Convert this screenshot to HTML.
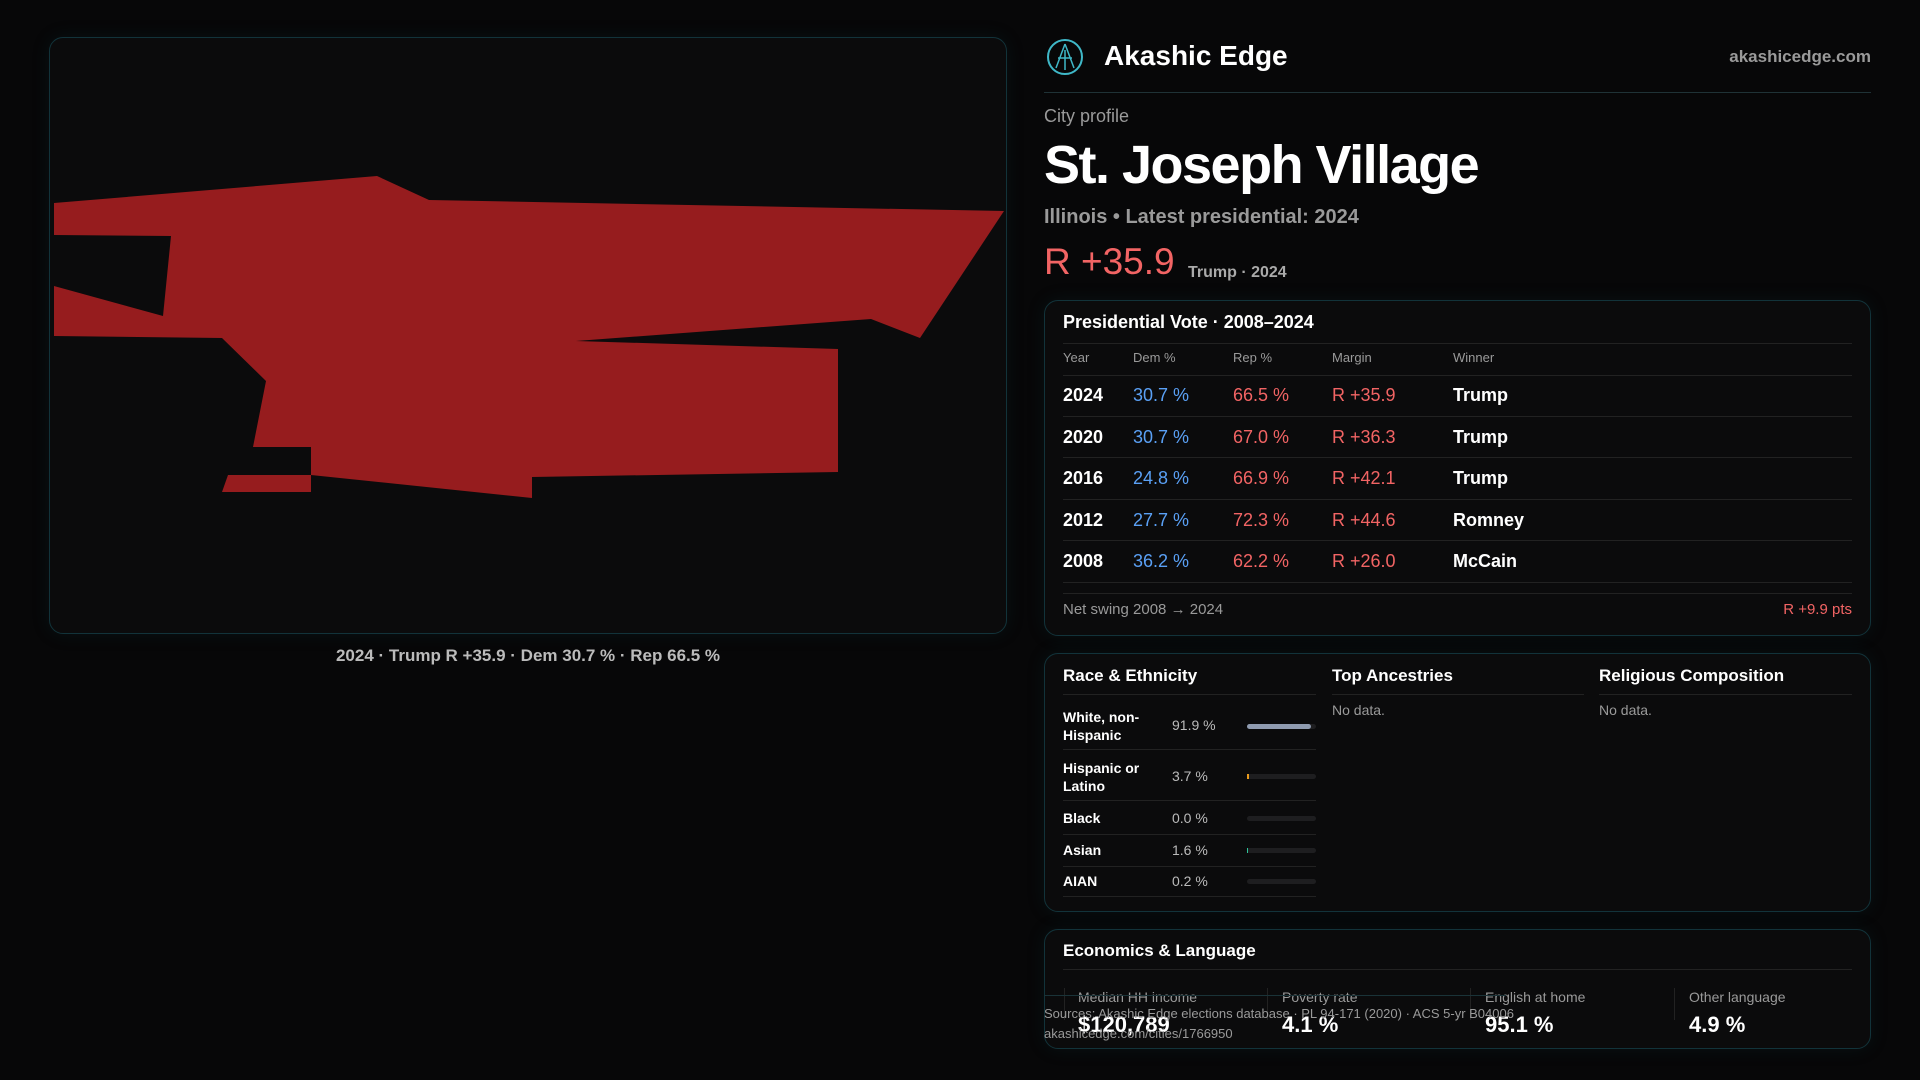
<!DOCTYPE html>
<html><head><meta charset="utf-8"><style>
*{margin:0;padding:0;box-sizing:border-box}
body{width:1920px;height:1080px;background:#070708;font-family:"Liberation Sans",sans-serif;color:#fff;position:relative;overflow:hidden}
.a{position:absolute;white-space:nowrap}
.panel{position:absolute;border:1px solid #12333a;border-radius:14px;background:#0b0b0c;box-shadow:0 0 18px rgba(20,80,90,0.15)}
.g{color:#9a9a9a}
.b{font-weight:bold}
.red{color:#f26464}.blue{color:#5aa0f5}
.hl{position:absolute;height:1px;background:#222}
</style></head><body>
<div class="panel" style="left:49px;top:37px;width:958px;height:597px"></div>
<svg class="a" style="left:0;top:0" width="1920" height="1080"><polygon fill="#961c1e" points="54,203 377,176 429,200 1004,211 920,338 871,319 576,341 838,349 838,472 532,477 532,498 311,475 311,447 253,447 266,381 222,338 54,336 54,286 163,316 171,236 54,235"/><polygon fill="#961c1e" points="311,475 311,492 222,492 228,475"/></svg>
<div class="a b" style="left:0;width:1056px;text-align:center;top:646px;font-size:17px;color:#bbb">2024 · Trump R +35.9 · Dem 30.7 % · Rep 66.5 %</div>

<svg class="a" style="left:1046px;top:38px" width="38" height="38"><circle cx="19" cy="19" r="17" fill="none" stroke="#3fb8c8" stroke-width="2"/><path d="M19 6 L10 30 M19 6 L28 30 M12 20 L26 20 M19 12 L19 32" stroke="#3fb8c8" stroke-width="1.5" fill="none"/></svg>
<div class="a b" style="left:1104px;top:40px;font-size:28px">Akashic Edge</div>
<div class="a b g" style="right:49px;top:47px;font-size:17px">akashicedge.com</div>
<div class="hl" style="left:1044px;width:827px;top:92px;background:#1f3236"></div>
<div class="a g" style="left:1044px;top:106px;font-size:18px">City profile</div>
<div class="a b" style="left:1044px;top:134px;font-size:54px;letter-spacing:-1.5px">St. Joseph Village</div>
<div class="a b g" style="left:1044px;top:206px;font-size:20px">Illinois • Latest presidential: 2024</div>
<div class="a red" style="left:1044px;top:241px;font-size:37px">R +35.9</div>
<div class="a g b" style="left:1188px;top:264px;font-size:16px;color:#aaa">Trump · 2024</div>

<div class="panel" style="left:1044px;top:300px;width:827px;height:336px"></div>
<div class="a b" style="left:1063px;top:312px;font-size:18px">Presidential Vote · 2008–2024</div>
<div class="hl" style="left:1063px;width:789px;top:343px"></div>
<div class="a g" style="left:1063px;top:350px;font-size:13px">Year</div>
<div class="a g" style="left:1133px;top:350px;font-size:13px">Dem %</div>
<div class="a g" style="left:1233px;top:350px;font-size:13px">Rep %</div>
<div class="a g" style="left:1332px;top:350px;font-size:13px">Margin</div>
<div class="a g" style="left:1453px;top:350px;font-size:13px">Winner</div>
<div class="hl" style="left:1063px;width:789px;top:375px"></div>
<div style="position:absolute;left:1063px;top:375px;width:789px;font-size:18px">
<div style="position:relative;height:41.6px;border-bottom:1px solid #222"><span class="a b" style="left:0;top:10px">2024</span><span class="a blue" style="left:70px;top:10px">30.7 %</span><span class="a red" style="left:170px;top:10px">66.5 %</span><span class="a red" style="left:269px;top:10px">R +35.9</span><span class="a b" style="left:390px;top:10px">Trump</span></div>
<div style="position:relative;height:41.6px;border-bottom:1px solid #222"><span class="a b" style="left:0;top:10px">2020</span><span class="a blue" style="left:70px;top:10px">30.7 %</span><span class="a red" style="left:170px;top:10px">67.0 %</span><span class="a red" style="left:269px;top:10px">R +36.3</span><span class="a b" style="left:390px;top:10px">Trump</span></div>
<div style="position:relative;height:41.6px;border-bottom:1px solid #222"><span class="a b" style="left:0;top:10px">2016</span><span class="a blue" style="left:70px;top:10px">24.8 %</span><span class="a red" style="left:170px;top:10px">66.9 %</span><span class="a red" style="left:269px;top:10px">R +42.1</span><span class="a b" style="left:390px;top:10px">Trump</span></div>
<div style="position:relative;height:41.6px;border-bottom:1px solid #222"><span class="a b" style="left:0;top:10px">2012</span><span class="a blue" style="left:70px;top:10px">27.7 %</span><span class="a red" style="left:170px;top:10px">72.3 %</span><span class="a red" style="left:269px;top:10px">R +44.6</span><span class="a b" style="left:390px;top:10px">Romney</span></div>
<div style="position:relative;height:41.6px;border-bottom:1px solid #222"><span class="a b" style="left:0;top:10px">2008</span><span class="a blue" style="left:70px;top:10px">36.2 %</span><span class="a red" style="left:170px;top:10px">62.2 %</span><span class="a red" style="left:269px;top:10px">R +26.0</span><span class="a b" style="left:390px;top:10px">McCain</span></div>
</div>
<div class="hl" style="left:1063px;width:789px;top:593px"></div>
<div class="a g" style="left:1063px;top:601px;font-size:15px">Net swing 2008 → 2024</div>
<div class="a red" style="right:68px;top:601px;font-size:15px">R +9.9 pts</div>

<div class="panel" style="left:1044px;top:653px;width:827px;height:259px"></div>
<div class="a b" style="left:1063px;top:666px;font-size:17px">Race &amp; Ethnicity</div>
<div class="a b" style="left:1332px;top:666px;font-size:17px">Top Ancestries</div>
<div class="a b" style="left:1599px;top:666px;font-size:17px">Religious Composition</div>
<div class="hl" style="left:1063px;width:253px;top:694px"></div>
<div class="hl" style="left:1332px;width:252px;top:694px"></div>
<div class="hl" style="left:1599px;width:253px;top:694px"></div>
<div class="a g" style="left:1332px;top:702px;font-size:14px">No data.</div>
<div class="a g" style="left:1599px;top:702px;font-size:14px">No data.</div>
<div style="font-size:14px">
<div class="a b" style="left:1063px;top:708px;line-height:18px">White, non-<br>Hispanic</div><div class="a" style="left:1172px;top:717px;color:#bbb">91.9 %</div>
<div class="a" style="left:1247px;top:724px;width:69px;height:5px;border-radius:3px;background:#1e1e20"><div style="width:64px;height:5px;border-radius:3px;background:#8f9bb0"></div></div>
<div class="hl" style="left:1063px;width:253px;top:749px"></div>
<div class="a b" style="left:1063px;top:759px;line-height:18px">Hispanic or<br>Latino</div><div class="a" style="left:1172px;top:768px;color:#bbb">3.7 %</div>
<div class="a" style="left:1247px;top:774px;width:69px;height:5px;border-radius:3px;background:#1e1e20"><div style="width:2px;height:5px;background:#e89a1c"></div></div>
<div class="hl" style="left:1063px;width:253px;top:800px"></div>
<div class="a b" style="left:1063px;top:810px">Black</div><div class="a" style="left:1172px;top:810px;color:#bbb">0.0 %</div>
<div class="a" style="left:1247px;top:816px;width:69px;height:5px;border-radius:3px;background:#1e1e20"></div>
<div class="hl" style="left:1063px;width:253px;top:834px"></div>
<div class="a b" style="left:1063px;top:842px">Asian</div><div class="a" style="left:1172px;top:842px;color:#bbb">1.6 %</div>
<div class="a" style="left:1247px;top:848px;width:69px;height:5px;border-radius:3px;background:#1e1e20"><div style="width:1px;height:5px;background:#2ec49a"></div></div>
<div class="hl" style="left:1063px;width:253px;top:866px"></div>
<div class="a b" style="left:1063px;top:873px">AIAN</div><div class="a" style="left:1172px;top:873px;color:#bbb">0.2 %</div>
<div class="a" style="left:1247px;top:879px;width:69px;height:5px;border-radius:3px;background:#1e1e20"></div>
<div class="hl" style="left:1063px;width:253px;top:896px"></div>
</div>

<div class="panel" style="left:1044px;top:929px;width:827px;height:120px"></div>
<div class="a b" style="left:1063px;top:941px;font-size:17px">Economics &amp; Language</div>
<div class="hl" style="left:1063px;width:789px;top:969px"></div>
<div class="a" style="left:1064px;top:988px;width:1px;height:32px;background:#222"></div>
<div class="a" style="left:1267px;top:988px;width:1px;height:32px;background:#222"></div>
<div class="a" style="left:1470px;top:988px;width:1px;height:32px;background:#222"></div>
<div class="a" style="left:1674px;top:988px;width:1px;height:32px;background:#222"></div>
<div class="a g" style="left:1078px;top:989px;font-size:14px">Median HH income</div>
<div class="a g" style="left:1282px;top:989px;font-size:14px">Poverty rate</div>
<div class="a g" style="left:1485px;top:989px;font-size:14px">English at home</div>
<div class="a g" style="left:1689px;top:989px;font-size:14px">Other language</div>
<div class="a b" style="left:1078px;top:1012px;font-size:22px">$120,789</div>
<div class="a b" style="left:1282px;top:1012px;font-size:22px">4.1 %</div>
<div class="a b" style="left:1485px;top:1012px;font-size:22px">95.1 %</div>
<div class="a b" style="left:1689px;top:1012px;font-size:22px">4.9 %</div>
<div class="hl" style="left:1044px;width:462px;top:995px;background:#1a3338"></div>
<div class="a g" style="left:1044px;top:1006px;font-size:13px">Sources: Akashic Edge elections database · PL 94-171 (2020) · ACS 5-yr B04006</div>
<div class="a g" style="left:1044px;top:1026px;font-size:13px">akashicedge.com/cities/1766950</div>
</body></html>
